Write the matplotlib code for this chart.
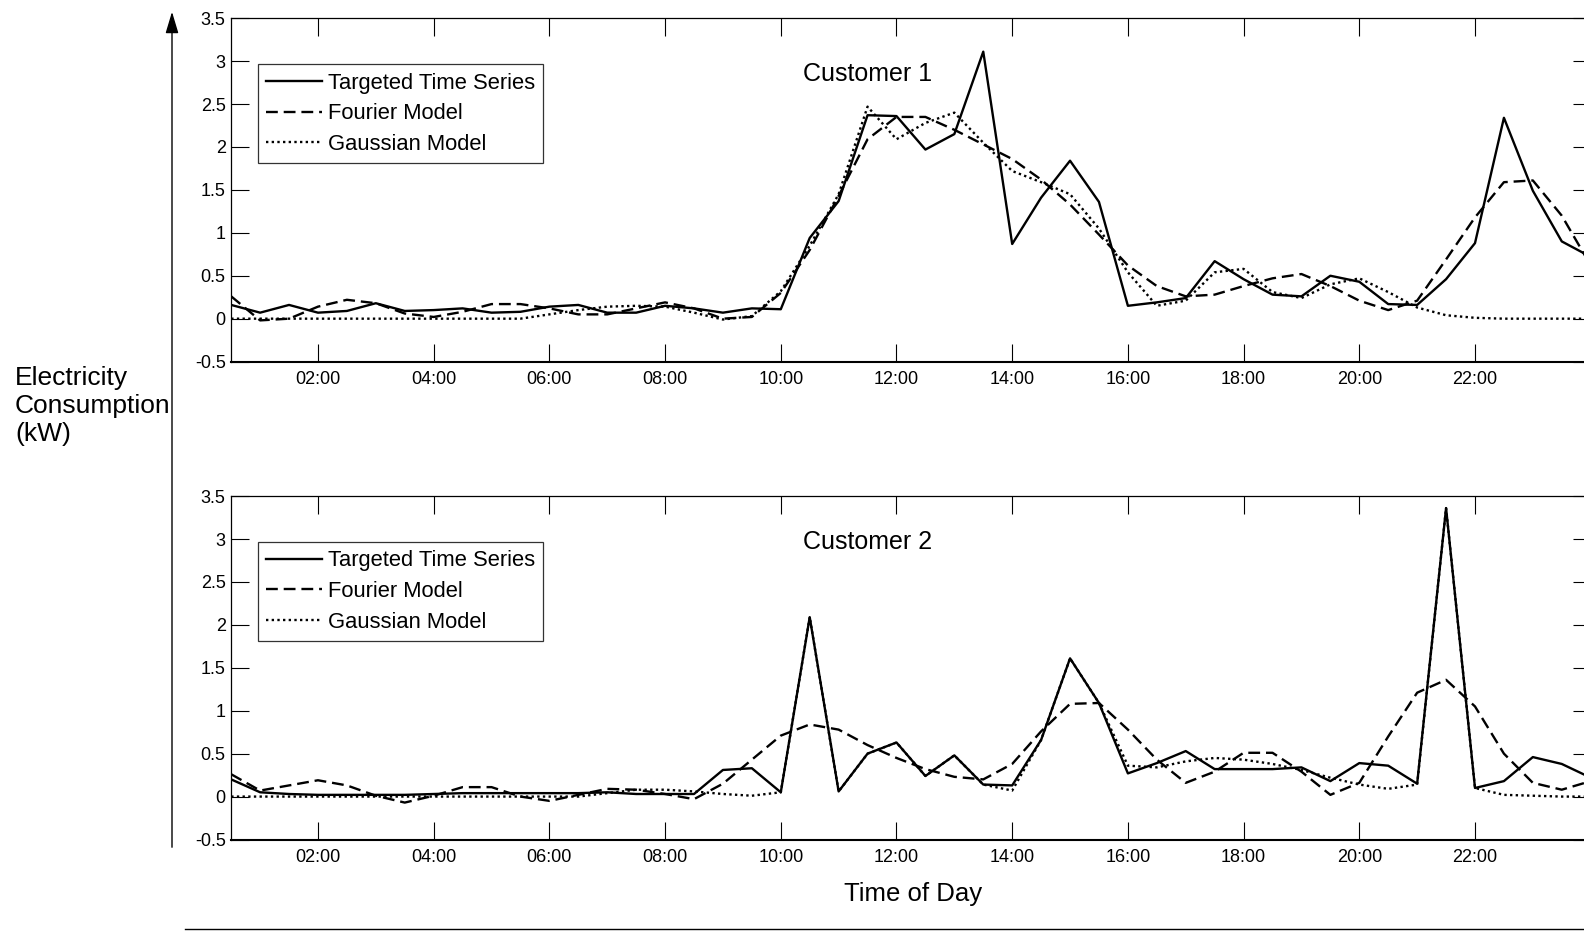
import numpy as np
import matplotlib
matplotlib.use('Agg')
import matplotlib.pyplot as plt
from matplotlib.lines import Line2D

plt.rcParams['font.family'] = ['Liberation Sans', 'DejaVu Sans']
plt.rcParams['axes.unicode_minus'] = False

# half-hourly readings, 00:30 .. 24:00
hours = np.arange(1, 49) * 0.5

c1_actual = [0.16, 0.07, 0.16, 0.07, 0.09, 0.18, 0.09, 0.10, 0.12, 0.07, 0.08, 0.14,
             0.16, 0.07, 0.07, 0.15, 0.12, 0.07, 0.12, 0.11, 0.94, 1.37, 2.37, 2.36,
             1.97, 2.15, 3.11, 0.87, 1.41, 1.84, 1.36, 0.15, 0.19, 0.24, 0.67, 0.46,
             0.28, 0.26, 0.50, 0.43, 0.17, 0.16, 0.46, 0.88, 2.34, 1.49, 0.90, 0.72]
c1_fourier = [0.26, -0.02, 0.00, 0.14, 0.22, 0.18, 0.06, 0.02, 0.08, 0.17, 0.17, 0.12,
              0.05, 0.05, 0.12, 0.19, 0.12, 0.00, 0.02, 0.30, 0.80, 1.43, 2.09, 2.35,
              2.35, 2.20, 2.03, 1.86, 1.62, 1.33, 0.98, 0.62, 0.38, 0.26, 0.28, 0.38,
              0.47, 0.52, 0.38, 0.21, 0.10, 0.21, 0.69, 1.18, 1.59, 1.61, 1.20, 0.62]
c1_gauss = [0.0, 0.0, 0.0, 0.0, 0.0, 0.0, 0.0, 0.0, 0.0, 0.0, 0.0, 0.05,
            0.10, 0.14, 0.15, 0.14, 0.07, -0.01, 0.03, 0.32, 0.85, 1.45, 2.47, 2.09,
            2.28, 2.40, 2.05, 1.72, 1.59, 1.45, 1.05, 0.54, 0.15, 0.21, 0.54, 0.58,
            0.31, 0.24, 0.40, 0.47, 0.31, 0.13, 0.04, 0.01, 0.0, 0.0, 0.0, 0.0]

c2_actual = [0.20, 0.05, 0.03, 0.02, 0.02, 0.02, 0.02, 0.03, 0.04, 0.04, 0.04, 0.04,
             0.04, 0.05, 0.03, 0.03, 0.03, 0.31, 0.33, 0.05, 2.09, 0.06, 0.50, 0.63,
             0.24, 0.48, 0.14, 0.13, 0.66, 1.61, 1.09, 0.27, 0.39, 0.53, 0.32, 0.32,
             0.32, 0.34, 0.18, 0.39, 0.36, 0.15, 3.36, 0.10, 0.18, 0.46, 0.38, 0.22]
c2_fourier = [0.26, 0.07, 0.13, 0.19, 0.13, 0.01, -0.07, 0.01, 0.11, 0.11, 0.00, -0.05,
              0.02, 0.09, 0.08, 0.03, -0.03, 0.15, 0.43, 0.71, 0.84, 0.78, 0.60, 0.45,
              0.32, 0.23, 0.20, 0.38, 0.76, 1.08, 1.09, 0.78, 0.43, 0.16, 0.29, 0.51,
              0.51, 0.29, 0.02, 0.16, 0.70, 1.21, 1.36, 1.05, 0.50, 0.16, 0.08, 0.18]
c2_gauss = [0.0, 0.0, 0.0, 0.0, 0.0, 0.0, 0.0, 0.0, 0.0, 0.0, 0.0, 0.0,
            0.0, 0.04, 0.08, 0.08, 0.06, 0.03, 0.01, 0.05, 2.09, 0.06, 0.50, 0.63,
            0.24, 0.48, 0.14, 0.07, 0.66, 1.61, 1.09, 0.36, 0.34, 0.41, 0.45, 0.43,
            0.38, 0.31, 0.22, 0.14, 0.09, 0.14, 3.36, 0.10, 0.02, 0.01, 0.0, 0.0]

xticks = [2, 4, 6, 8, 10, 12, 14, 16, 18, 20, 22]
xticklabels = ['%02d:00' % h for h in xticks]
yticks = [-0.5, 0, 0.5, 1, 1.5, 2, 2.5, 3, 3.5]

W, H = 1584, 936
fig = plt.figure(figsize=(W / 100, H / 100), dpi=100)


def px(x, y):
    # pixel position (from top-left) to figure fraction
    return x / W, 1 - y / H


def draw_panel(rect, actual, fourier, gauss, title, title_y):
    ax = fig.add_axes(rect)
    ax.plot(hours, actual, color='black', lw=1.7, ls='-', label='Targeted Time Series')
    ax.plot(hours, fourier, color='black', lw=1.7, ls=(0, (5, 2.5)), label='Fourier Model')
    ax.plot(hours, gauss, color='black', lw=1.7, ls=(0, (1, 1.4)), label='Gaussian Model')
    ax.set_xlim(0.5, 24)
    ax.set_ylim(-0.5, 3.5)
    ax.set_xticks(xticks)
    ax.set_xticklabels(xticklabels)
    ax.set_yticks(yticks)
    ax.set_yticklabels(['%g' % v for v in yticks])
    ax.tick_params(direction='in', top=True, right=True, length=13, width=0.8,
                   labelsize=13)
    ax.tick_params(axis='x', pad=7)
    ax.tick_params(axis='y', pad=4)
    for s in ax.spines.values():
        s.set_linewidth(0.9)
    ax.spines['bottom'].set_linewidth(1.5)
    ax.text(0.468, title_y, title, transform=ax.transAxes, ha='center', va='center',
            fontsize=18)
    leg = ax.legend(loc='upper left', bbox_to_anchor=(0.0197, 0.866), fontsize=15.8,
                    handlelength=2.55, handletextpad=0.25, labelspacing=0.44,
                    borderpad=0.38, borderaxespad=0, fancybox=False, frameon=True)
    leg.get_frame().set_edgecolor('black')
    leg.get_frame().set_linewidth(0.9)
    return ax


ax_w = (1590.7 - 231.2) / W
ax_h = (361.6 - 18.2) / H
draw_panel([231.2 / W, 1 - 361.6 / H, ax_w, ax_h], c1_actual, c1_fourier, c1_gauss,
           'Customer 1', 0.838)
draw_panel([231.2 / W, 1 - 839.5 / H, ax_w, ax_h], c2_actual, c2_fourier, c2_gauss,
           'Customer 2', 0.865)

# shared y axis arrow and bottom rule
fig.add_artist(matplotlib.patches.FancyArrowPatch(
    px(172, 850), px(172, 9), transform=fig.transFigure, color='black', lw=1.0,
    arrowstyle='-|>,head_length=1.1,head_width=0.33', mutation_scale=12))
fig.add_artist(Line2D([185 / W, 1.0], [1 - 929 / H, 1 - 929 / H],
                      transform=fig.transFigure, color='black', lw=1.0))

fig.text(*px(15, 406), 'Electricity\nConsumption\n(kW)', ha='left', va='center',
         fontsize=19)
fig.text(*px(913, 894), 'Time of Day', ha='center', va='center', fontsize=18.5)

fig.savefig('out.png', dpi=100)
